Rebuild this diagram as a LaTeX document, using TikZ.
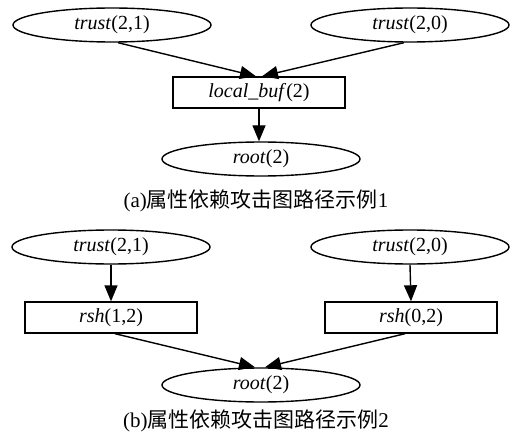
\documentclass[tikz,border=0pt]{standalone}
\usepackage{fontspec}
\setmainfont{Liberation Serif}
\newfontfamily\cjk{Noto Sans CJK SC}
\usetikzlibrary{shapes.geometric,arrows.meta}
\begin{document}
\begin{tikzpicture}[x=1pt,y=-1pt,
  every node/.style={font=\fontsize{20}{22}\selectfont},
  oval/.style={draw,ellipse,line width=1.4pt,minimum width=198pt,minimum height=34pt,inner sep=0pt},
  rule/.style={draw,rectangle,line width=1.4pt,minimum width=172pt,minimum height=31pt,inner sep=0pt},
  edge/.style={line width=1.4pt,-{Triangle[length=16pt,width=13pt]}},
  caption/.style={font=\fontsize{21}{23}\selectfont}]
\useasboundingbox (0,0) rectangle (512,436);
% (a) first example path
\node[oval] (a1) at (112,25) {\textit{trust}(2,1)};
\node[oval] (a2) at (410,25) {\textit{trust}(2,0)};
\node[rule] (ab) at (259,92.5) {\textit{local\_buf}(2)};
\node[oval] (ar) at (261,159) {\textit{root}(2)};
\node[caption] (ca) at (256,201) {(a)\cjk 属性依赖攻击图路径示例\rmfamily 1};
\draw[edge] ([xshift=6pt]a1.south) -- ([xshift=-3pt]ab.north);
\draw[edge] ([xshift=-6pt]a2.south) -- ([xshift=3pt]ab.north);
\draw[edge] (ab.south) -- (ab.south |- ar.north);
% (b) second example path
\node[oval] (b1) at (111,247) {\textit{trust}(2,1)};
\node[oval] (b2) at (410,247) {\textit{trust}(2,0)};
\node[rule] (bx1) at (111,317.5) {\textit{rsh}(1,2)};
\node[rule] (bx2) at (411,317.5) {\textit{rsh}(0,2)};
\node[oval] (br) at (261,385) {\textit{root}(2)};
\node[caption] (cb) at (256,421) {(b)\cjk 属性依赖攻击图路径示例\rmfamily 2};
\draw[edge] (b1.south) -- (bx1.north);
\draw[edge] (b2.south) -- (bx2.north);
\draw[edge] ([xshift=4pt]bx1.south) -- ([xshift=-6pt]br.north);
\draw[edge] ([xshift=-6pt]bx2.south) -- ([xshift=4pt]br.north);
\end{tikzpicture}
\end{document}
